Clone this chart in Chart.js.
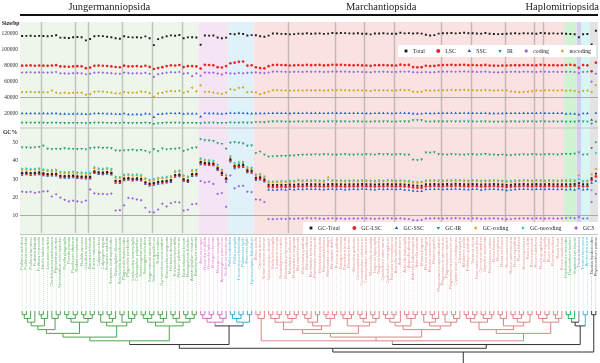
<!DOCTYPE html>
<html>
<head>
<meta charset="utf-8">
<script src="https://cdn.jsdelivr.net/npm/chart.js@4.4.0/dist/chart.umd.min.js"></script>
<style>
  html, body { margin: 0; padding: 0; background: #fff; }
  #wrap { width: 600px; height: 363px; }
</style>
</head>
<body>
<div id="wrap"><canvas id="c" width="600" height="363"></canvas></div>
<script>
// clades, left to right: Jungermanniopsida, two small clades, Marchantiopsida, Haplomitriopsida parts, outgroups
const cladeSizes = [42, 7, 6, 73, 3, 1, 2, 2];
const cladeFills = ["#eef6ec", "#f5e5f4", "#e0f1f9", "#fbe2e2", "#d2f3d3", "#d6cdf0", "#d6f7f6", "#e3e3e3"];
const cladeColors = ["#4da64d", "#d66fc6", "#35aed4", "#de8484", "#2fae4f", "#7d72b3", "#20c8c8", "#333333"];
const classNames = ["Jungermanniopsida", "Marchantiopsida", "Haplomitriopsida"];
const classFirst = [0, 42, 128];
const classLast = [41, 127, 135];
const sepAfter = [5, 13, 16, 24, 31, 38, 63, 74, 81, 88, 99, 106, 114, 121, 123];

const species = [
  "Frullania nodulosa", "Frullania moniliata", "Frullania tamarisci", "Frullania dilatata", "Frullania muscicola",
  "Jubula hutchinsiae", "Lejeunea cavifolia", "Cheilolejeunea xanthocarpa", "Ptychanthus striatus", "Spruceanthus semirepandus",
  "Porella platyphylla", "Porella pinnata", "Porella perrottetiana", "Radula complanata", "Radula japonica",
  "Lepidozia reptans", "Bazzania trilobata", "Kurzia makinoana", "Calypogeia fissa", "Calypogeia arguta",
  "Scapania undulata", "Scapania ornithopodioides", "Diplophyllum albicans", "Schistochila appendiculata", "Plagiochila asplenioides",
  "Plagiochila porelloides", "Lophocolea heterophylla", "Chiloscyphus polyanthos", "Heteroscyphus planus", "Saccogyna viticulosa",
  "Jungermannia exsertifolia", "Solenostoma gracillimum", "Nardia scalaris", "Gymnomitrion concinnatum", "Marsupella emarginata",
  "Herbertus dicranus", "Trichocolea tomentella", "Ptilidium pulcherrimum", "Neotrichocolea bissetii", "Mastigophora diclados",
  "Anastrophyllum minutum", "Barbilophozia barbata",
  "Aneura pinguis", "Riccardia multifida", "Riccardia latifrons", "Metzgeria furcata", "Metzgeria conjugata",
  "Apometzgeria pubescens", "Verdoornia succulenta",
  "Pellia endiviifolia", "Pellia epiphylla", "Fossombronia foveolata", "Pallavicinia lyellii", "Moerckia blyttii",
  "Hymenophyton flabellatum",
  "Blasia pusilla", "Cavicularia densa", "Sphaerocarpos texanus", "Sphaerocarpos donnellii", "Riella helicophylla",
  "Lunularia cruciata", "Neohodgsonia mirabilis", "Marchantia polymorpha", "Marchantia paleacea", "Marchantia emarginata",
  "Marchantia pinnata", "Marchantia quadrata", "Marchantia inflexa", "Marchantia berteroana", "Marchantia chenopoda",
  "Marchantia papillata", "Marchantia foliacea", "Marchantia subintegra", "Marchantia debilis", "Preissia quadrata",
  "Bucegia romanica", "Dumortiera hirsuta", "Monoclea forsteri", "Monoclea gottschei", "Conocephalum conicum",
  "Conocephalum salebrosum", "Conocephalum japonicum", "Wiesnerella denudata", "Targionia hypophylla", "Targionia lorbeeriana",
  "Cyathodium cavernarum", "Cyathodium smaragdinum", "Reboulia hemisphaerica", "Asterella wallichiana", "Asterella tenera",
  "Asterella leptophylla", "Asterella africana", "Asterella lindenbergiana", "Asterella saccata", "Mannia fragrans",
  "Mannia androgyna", "Mannia controversa", "Mannia gracilis", "Plagiochasma appendiculatum", "Plagiochasma intermedium",
  "Plagiochasma rupestre", "Plagiochasma pterospermum", "Cryptomitrium himalayense", "Clevea hyalina", "Athalamia pusilla",
  "Peltolepis quadrata", "Sauteria alpina", "Exormotheca pustulosa", "Corsinia coriandrina", "Oxymitra incrassata",
  "Ricciocarpos natans", "Riccia fluitans", "Riccia glauca", "Riccia sorocarpa", "Riccia cavernosa",
  "Riccia huebeneriana", "Riccia crystallina", "Riccia bifurca", "Riccia beyrichiana", "Riccia ciliata",
  "Riccia warnstorfii", "Riccia subbifurca", "Riccia gougetiana", "Riccia nigrella", "Riccia michelii",
  "Riccia lamellosa", "Riccia frostii", "Riccia canaliculata",
  "Haplomitrium mnioides", "Haplomitrium hookeri", "Haplomitrium blumei",
  "Treubia lacunosa",
  "Treubia tasmanica", "Apotreubia nana",
  "Takakia lepidozioides", "Physcomitrium patens"
];

// tree topology, leaves in the order above ("x" = one leaf, digit = clade subtree)
const cladeTrees = [
  "((((((((x,x),x),x),((x,x),x)),(x,(x,x))),(((x,x),(x,x)),((x,x),(x,x)))),(((x,x),((x,x),x)),((x,x),(x,(x,x))))),((((x,x),(x,x)),((x,x),x)),(((x,x),x),((x,x),(x,x)))))",
  "(((x,x),(x,x)),((x,x),x))",
  "(((x,x),(x,x)),(x,x))",
  "(((x,x),x),((((((x,x),(x,x)),((x,x),(x,x))),((((x,x),x),(x,x)),((x,x),(x,x)))),(((x,x),(x,x)),(((x,x),x),((x,x),x)))),(((((x,x),(x,x)),x),((x,x),(x,x))),(((x,x),((x,x),x)),((x,x),((x,x),x))))),(((((x,x),(x,x)),((x,x),(x,x))),(((x,x),x),(((x,x),(x,x)),(x,x)))),(((x,x),(x,x)),((x,x),x)))))",
  "((x,x),x)",
  "x",
  "(x,x)",
  "(x,x)"
];
const backbone = "(((0,(1,2)),(3,((4,5),6))),7)";

// genome sizes (bp)
const sizeTotal = [
  117500,117600,117800,117300,117600,117400,117200,117600,118400,115500,115200,115000,116000,116300,116000,112000,113800,117100,117600,117300,116600,116000,114600,114000,117200,116100,115800,116000,115400,117000,114600,106000,113600,115600,117200,118300,117800,118700,114600,115800,116000,115600,
  106500,118200,118000,118100,115600,114600,115400,
  120200,119600,120600,120100,118200,118600,
  118500,117200,116500,118000,120600,120700,120200,120000,119500,119800,
  120500,120300,121000,120400,120600,120800,120200,120500,121200,121000,
  121300,121100,120800,120700,120900,120400,120300,119500,120600,120700,
  120900,120500,120300,120400,121500,120800,121100,120600,120900,120500,
  119000,118200,118600,120500,121000,120900,121200,120800,121100,121500,
  120900,121000,120700,120500,121200,120300,120000,119900,120100,120300,
  120600,120900,120500,121000,120800,120700,120400,121300,120900,120600,
  120800,120500,120700,
  120300,120100,119600,
  116000,
  119700,120000,
  107000,124000
];
const sizeLSC = [
  80200,80300,80500,80100,80400,80200,80000,80300,80800,79200,79000,78800,79200,79500,79300,77000,77800,80000,80300,80100,79600,79200,78500,78200,80200,79400,79300,79600,79100,80100,78600,76000,77200,78300,79600,80600,80400,81000,78400,79500,79700,79200,
  76500,81200,81000,80600,78300,77900,79600,
  83200,84000,85000,85400,80200,80600,
  78200,77200,76800,79500,81000,81200,81000,80800,80400,80600,
  80900,80700,81200,80800,80900,81100,80500,80800,81300,81100,
  81200,81000,80800,80600,80900,80500,80400,79800,80700,80800,
  80900,80600,80500,80400,81400,80900,81100,78400,78100,78300,
  80100,79600,79800,80600,80900,81000,81200,80900,81100,81300,
  80800,81000,80700,80600,81100,80400,80200,80100,80300,80400,
  80600,80800,80500,81000,80800,80700,80500,81200,80900,80700,
  80800,80600,80700,
  81000,81200,80800,
  77500,
  80900,80600,
  73000,84000
];
const sizeSSC = [
  20100,20000,20200,20100,20000,20100,19900,20100,20200,19600,19500,19400,19600,19700,19600,19000,19300,20000,20100,20000,19800,19700,19300,19200,20000,18900,18700,18800,18600,19900,19400,15500,19200,19600,20000,20300,20200,20400,19300,19800,19900,19700,
  16000,20300,20200,20100,19800,19600,20000,
  20600,20300,20700,20400,20100,19900,
  20200,20100,20000,20300,20400,20500,20400,20300,20200,20400,
  20500,20300,20600,20400,20400,20500,20300,20400,20600,20500,
  20500,20400,20300,20400,20500,20300,20200,20000,20300,20400,
  20500,20300,20200,20300,20600,20400,20500,19800,19600,19700,
  20300,20100,20200,20400,20500,20500,20600,20400,20500,20600,
  20400,20500,20300,20400,20500,20200,20100,20000,20200,20300,
  20400,20500,20300,20500,20400,20400,20300,20600,20400,20300,
  20400,20300,20400,
  19600,19700,19500,
  18500,
  20000,20100,
  12000,20600
];
const sizeIR = [
  8500,8500,8600,8500,8500,8500,8400,8500,8600,8300,8300,8200,8400,8400,8400,8000,8200,8500,8600,8500,8400,8400,8200,8100,8500,8300,8300,8300,8200,8500,8200,6900,8000,8300,8500,8600,8500,8700,8200,8400,8400,8300,
  8000,8600,8600,8500,8300,8200,8400,
  8800,8700,8600,8800,8600,8600,
  9400,9300,9200,9800,10100,10200,10100,10000,9900,10000,
  10100,10000,10200,10100,10100,10200,10000,10100,10300,10200,
  10200,10100,10000,10100,10200,10000,10000,9800,10100,10100,
  10200,10100,10000,10000,10300,10100,10200,11800,11900,11700,
  10200,10000,10100,10100,10200,10200,10300,10100,10200,10300,
  10100,10200,10000,10100,10200,10000,9900,9900,10000,10000,
  10100,10200,10000,10200,10100,10100,10000,10300,10100,10000,
  10100,10000,10100,
  9900,10000,9800,
  10400,
  10100,10000,
  7500,9800
];
const sizeCoding = [
  71600,71700,71900,71500,71800,71600,71400,71700,72200,70600,70400,70200,70700,70900,70600,69400,70000,71300,71600,71400,71000,70700,70100,69900,71400,70800,70600,70700,70400,71200,70000,66000,69500,70500,71300,72000,71700,72300,70200,70800,67000,70500,
  67500,71500,71400,71300,70200,69200,71000,
  70600,70200,71000,70600,71200,71400,
  71800,71200,70800,71600,72600,72700,72500,72400,72200,72400,
  72500,72300,72700,72400,72500,72600,72300,72400,72800,72700,
  72700,72600,72400,72300,72500,72200,72100,71800,72400,72500,
  72600,72300,72200,72300,72800,72500,72700,72000,71800,71900,
  72300,71800,72000,72400,72600,72600,72800,72500,72700,72900,
  72500,72600,72300,72400,72700,72100,71900,71800,72000,72200,
  72400,72600,72300,72600,72500,72400,72200,72800,72500,72300,
  72500,72300,72400,
  72400,72500,72200,
  71000,
  72300,72500,
  60000,70000
];
const sizeNoncoding = [
  46800,46900,47200,46700,47000,46800,46600,48900,46200,45600,46400,45500,46000,46300,46100,43600,44500,47300,47800,47500,46900,46400,45500,45300,47100,46400,46200,46300,47600,47200,45700,41000,45200,46100,47400,48300,47900,48500,46200,47600,52500,48000,
  55500,47300,47100,46400,45600,44600,46300,
  50600,49800,52300,52800,46800,47200,
  46500,44300,45800,47400,49300,49500,49200,49000,48700,48900,
  49100,48900,49400,49000,49100,49300,48900,49100,49500,49400,
  49600,49400,49200,49100,49300,49000,48900,48400,49100,49200,
  49400,49100,48900,49000,49600,49300,49500,47500,47200,47400,
  49100,48700,48800,49200,49400,49400,49700,49300,49500,49800,
  49400,49500,49200,49100,49500,49300,48900,49100,49200,49000,
  47800,47300,46800,47100,47500,48300,49000,48700,49200,49100,
  49000,48800,49500,
  48600,48800,48400,
  47000,
  48500,48700,
  47000,55800
];

// GC content (%)
const gcTotal = [
  33.5,33.6,33.4,33.5,33.7,33.2,32.8,32.9,33.0,31.9,31.7,31.8,32.0,31.6,31.5,31.4,31.3,34.3,33.8,33.6,33.9,33.5,29.2,29.0,30.4,30.6,30.3,30.5,30.2,28.4,27.6,28.0,28.6,28.9,29.2,29.5,32.3,32.6,30.0,29.4,32.8,33.0,
  39.3,38.8,38.6,38.4,36.0,33.5,30.5,
  40.8,37.2,37.6,37.8,34.8,34.6,
  30.8,31.0,29.8,27.0,26.8,26.9,27.0,26.9,27.1,27.0,
  27.2,27.1,27.4,27.2,27.3,27.2,27.1,27.3,27.4,27.2,
  27.3,27.1,27.2,27.3,27.2,27.4,27.3,27.2,27.1,27.3,
  27.2,27.4,27.3,27.2,27.3,27.1,27.0,26.6,26.5,26.4,
  27.2,27.3,27.4,27.3,27.2,27.4,27.3,27.5,27.4,27.3,
  27.2,27.4,27.3,27.1,27.2,27.3,27.4,27.2,27.1,26.9,
  27.0,27.2,27.3,27.4,27.3,27.2,27.4,27.3,27.2,27.4,
  27.3,27.2,27.3,
  27.3,27.2,27.4,
  27.8,
  27.2,27.3,
  30.5,33.0
];
const gcLSC = [
  33.0,33.1,32.9,33.0,33.2,32.7,32.3,32.4,32.5,31.4,31.2,31.3,31.5,31.1,31.0,30.9,30.8,33.8,33.3,33.1,33.4,33.0,28.7,28.5,29.9,30.1,29.8,30.0,29.7,27.9,27.1,27.5,28.1,28.4,28.7,29.0,31.8,32.1,29.5,28.9,32.3,32.5,
  38.8,38.3,38.2,38.0,35.4,33.0,30.0,
  40.2,36.6,37.0,37.2,34.2,34.0,
  30.2,30.4,29.2,25.9,25.7,25.8,25.9,25.8,26.0,25.9,
  26.1,26.0,26.3,26.1,26.2,26.1,26.0,26.2,26.3,26.1,
  26.2,26.0,26.1,26.2,26.1,26.3,26.2,26.1,26.0,26.2,
  26.1,26.3,26.2,26.1,26.2,26.0,25.9,25.5,25.4,25.3,
  26.1,26.2,26.3,26.2,26.1,26.3,26.2,26.4,26.3,26.2,
  26.1,26.3,26.2,26.0,26.1,26.2,26.3,26.1,26.0,25.8,
  25.9,26.1,26.2,26.3,26.2,26.1,26.3,26.2,26.1,26.3,
  26.2,26.1,26.2,
  26.2,26.1,26.3,
  26.4,
  26.1,26.2,
  29.5,31.5
];
const gcSSC = [
  32.3,32.5,32.2,32.4,32.6,32.0,31.7,31.8,31.9,30.8,30.6,30.7,30.9,30.5,30.4,30.3,30.2,33.2,32.7,32.5,32.8,32.4,28.0,27.8,29.3,29.5,29.2,29.4,29.1,27.2,26.4,26.8,27.4,27.7,28.1,28.4,31.2,31.5,28.9,28.3,31.6,31.9,
  38.0,37.8,37.6,37.4,34.8,32.2,28.6,
  39.5,35.8,36.4,36.5,33.6,33.4,
  29.4,29.7,28.6,24.3,24.1,24.2,24.4,24.2,24.5,24.3,
  24.6,24.4,24.7,24.5,24.6,24.4,24.3,24.6,24.7,24.4,
  24.5,24.3,24.4,24.6,24.4,24.7,24.5,24.4,24.3,24.5,
  24.4,24.6,24.5,24.4,24.5,24.2,24.1,23.6,23.4,23.5,
  24.4,24.5,24.6,24.5,24.4,24.6,24.5,24.7,24.6,24.4,
  24.3,24.6,24.5,24.2,24.4,24.5,24.6,24.4,24.3,23.9,
  24.1,24.4,24.5,24.6,24.5,24.4,24.6,24.5,24.4,24.6,
  24.5,24.4,24.5,
  24.3,24.4,24.2,
  25.0,
  24.3,24.4,
  28.0,29.0
];
const gcIR = [
  47.3,47.2,47.1,47.3,47.6,48.2,46.6,46.3,46.5,46.4,46.8,46.6,46.5,46.3,46.5,46.2,46.8,47.1,47.2,47.0,47.1,46.8,45.6,45.5,45.7,45.8,46.0,45.6,45.9,45.4,44.6,46.3,45.2,46.7,46.2,46.4,46.6,46.8,45.4,46.0,47.0,47.2,
  51.8,51.2,51.0,50.8,49.6,49.2,46.6,
  49.8,50.1,49.8,49.4,48.2,48.3,
  44.2,45.0,43.4,42.3,42.4,42.5,42.6,42.7,42.8,42.9,
  43.2,43.3,43.4,43.3,43.5,43.4,43.6,43.5,43.4,43.3,
  43.5,43.6,43.4,43.3,43.5,43.4,43.6,43.5,43.4,43.7,
  43.5,43.6,43.4,43.5,43.6,43.4,43.3,40.6,40.4,40.7,
  44.5,44.4,44.7,43.6,43.5,43.4,43.6,43.5,43.4,43.3,
  43.5,43.6,43.4,43.5,43.7,43.4,43.3,43.2,43.4,43.1,
  43.0,43.3,43.4,43.5,43.4,43.6,43.5,43.4,43.5,43.6,
  43.5,43.4,43.6,
  43.8,43.7,43.9,
  44.6,
  43.4,43.5,
  47.0,50.0
];
const gcCoding = [
  35.0,35.1,34.9,35.0,35.3,34.7,34.3,34.4,34.5,33.4,33.2,33.3,33.5,33.1,33.0,32.9,32.8,35.8,35.3,35.1,35.4,35.0,30.7,30.5,31.9,32.1,31.8,32.0,31.7,29.9,29.1,29.5,30.1,30.4,30.7,31.0,33.8,34.1,31.5,30.9,34.3,34.5,
  40.5,39.8,39.6,39.3,37.0,34.5,31.8,
  41.8,38.2,38.6,38.8,35.8,35.6,
  32.0,32.2,31.0,28.4,28.3,28.4,28.6,28.5,28.7,28.6,
  29.2,28.8,29.0,28.9,29.0,28.8,28.7,31.0,29.0,28.8,
  28.9,28.7,28.8,28.9,28.8,29.0,28.9,28.8,28.7,28.9,
  28.8,29.0,28.9,28.8,28.9,28.7,28.6,28.1,28.0,28.2,
  28.8,28.9,29.0,28.9,28.8,29.0,28.9,29.1,29.0,28.9,
  28.8,29.0,28.9,28.7,28.8,28.9,29.0,28.8,28.7,28.5,
  28.6,28.8,28.9,29.0,28.9,28.8,29.0,28.9,28.8,29.0,
  28.9,28.8,28.9,
  28.9,29.0,28.8,
  32.0,
  28.6,28.7,
  32.6,35.5
];
const gcNoncoding = [
  35.6,35.8,35.5,35.6,35.9,35.3,34.9,35.0,35.1,34.0,33.8,33.9,34.1,33.7,33.6,33.5,33.4,36.5,35.9,35.7,36.0,35.6,31.3,31.1,32.5,32.7,32.4,32.6,32.3,30.5,29.7,30.1,30.7,31.0,31.3,31.6,34.4,34.7,32.1,31.5,34.9,35.1,
  41.2,40.5,40.3,40.0,37.8,35.2,32.3,
  42.5,38.8,39.2,39.4,36.5,36.3,
  32.6,32.8,31.6,28.8,28.7,28.8,29.0,28.9,29.1,29.0,
  29.6,29.3,29.5,29.4,29.5,29.3,29.2,29.6,29.5,29.3,
  29.4,29.2,29.3,29.4,29.3,29.5,29.4,29.3,29.2,29.4,
  29.3,29.5,29.4,29.3,29.4,29.2,29.1,28.6,28.5,28.7,
  29.3,29.4,29.5,29.4,29.3,29.5,29.4,29.6,29.5,29.4,
  29.3,29.5,29.4,29.2,29.3,29.4,29.5,29.3,29.2,29.0,
  29.1,29.3,29.4,29.5,29.4,29.3,29.5,29.4,29.3,29.5,
  29.4,29.3,29.4,
  29.5,29.6,29.4,
  30.0,
  29.1,29.2,
  24.0,44.2
];
const gc3 = [
  23.2,23.0,23.1,22.6,23.0,23.4,23.5,20.6,21.8,20.0,18.8,18.0,18.3,18.0,17.6,18.4,24.4,22.3,22.0,22.0,21.8,22.2,13.0,13.2,15.8,19.8,19.6,19.0,18.6,14.5,12.2,12.0,13.5,16.6,15.2,17.0,17.6,17.4,13.0,13.4,16.4,16.6,
  29.0,28.2,28.6,27.4,22.0,22.5,15.0,
  32.0,25.0,26.2,26.4,23.2,23.0,
  19.0,18.8,17.6,8.4,8.3,8.4,8.5,8.4,8.6,8.5,
  8.7,8.6,8.9,8.7,8.8,8.6,8.5,8.7,8.8,8.6,
  8.7,8.5,8.6,8.7,8.6,8.8,8.7,8.6,8.5,8.7,
  8.6,8.8,8.7,8.6,8.7,8.5,8.4,7.8,7.7,7.9,
  8.6,8.7,8.8,8.7,8.6,8.8,8.7,8.9,8.8,8.7,
  8.6,8.8,8.7,8.5,8.6,8.7,8.8,8.6,8.5,8.3,
  8.4,8.6,8.7,8.8,8.7,8.6,8.8,8.7,8.6,8.8,
  8.7,8.6,8.7,
  8.9,9.0,8.8,
  9.4,
  8.6,8.7,
  17.6,22.0
];

const sizeTicks = [20000, 40000, 60000, 80000, 100000, 120000];
const gcTicks = [10, 20, 30, 40, 50];

const serif = '"Liberation Serif", "DejaVu Serif", serif';

function series(label, data, axis, color, style, rotation) {
  return {
    label, data, yAxisID: axis,
    showLine: false,
    backgroundColor: color, borderColor: color,
    pointStyle: style, rotation: rotation || 0,
    pointRotation: rotation || 0,
    pointRadius: style === 'triangle' ? 1.6 : 1.35,
    pointBorderWidth: 0, pointHoverRadius: 0
  };
}

const datasets = [
  series('Total', sizeTotal, 'ySize', '#1a1a1a', 'rect'),
  series('LSC', sizeLSC, 'ySize', '#e8262a', 'circle'),
  series('SSC', sizeSSC, 'ySize', '#1e5fd0', 'triangle'),
  series('IR', sizeIR, 'ySize', '#1b9e6e', 'triangle', 180),
  series('coding', sizeCoding, 'ySize', '#9b63e0', 'rectRot'),
  series('nocoding', sizeNoncoding, 'ySize', '#c9a20a', 'triangle', 270),
  series('GC-Total', gcTotal, 'yGC', '#1a1a1a', 'rect'),
  series('GC-LSC', gcLSC, 'yGC', '#e8262a', 'circle'),
  series('GC-SSC', gcSSC, 'yGC', '#1e5fd0', 'triangle'),
  series('GC-IR', gcIR, 'yGC', '#1b9e6e', 'triangle', 180),
  series('GC-coding', gcCoding, 'yGC', '#c9a20a', 'triangle', 270),
  series('GC-nocoding', gcNoncoding, 'yGC', '#1ec8d6', 'triangle', 90),
  series('GC3', gc3, 'yGC', '#9b63e0', 'rectRot')
];

function drawLegend(chart, ids, left, right, cy) {
  const ctx = chart.ctx;
  ctx.save();
  ctx.fillStyle = '#fff';
  ctx.fillRect(left, cy - 6, right - left, 12);
  ctx.font = '5.8px ' + serif;
  ctx.textBaseline = 'middle';
  ctx.textAlign = 'left';
  const widths = ids.map(i => ctx.measureText(chart.data.datasets[i].label).width);
  const used = widths.reduce((s, w) => s + w + 8, 0);
  const gap = (right - left - 12 - used) / (ids.length - 1);
  let x = left + 8;
  ids.forEach((i, k) => {
    const ds = chart.data.datasets[i];
    ctx.fillStyle = ds.backgroundColor;
    Chart.helpers.drawPoint(ctx, { pointStyle: ds.pointStyle, rotation: ds.rotation, radius: 2, borderWidth: 0 }, x, cy);
    ctx.fillStyle = '#222';
    ctx.fillText(ds.label, x + 7, cy + 0.5);
    x += 8 + widths[k] + gap;
  });
  ctx.restore();
}

function buildTree() {
  let leaf = 0;
  function parse(s, color) {
    let p = 0;
    function node() {
      if (s[p] === '(') {
        p++;
        const kids = [node()];
        while (s[p] === ',') { p++; kids.push(node()); }
        p++;
        return { kids, color };
      }
      const ch = s[p++];
      if (ch === 'x') return { leaf: leaf++, color };
      return parse(cladeTrees[+ch], cladeColors[+ch]);
    }
    return node();
  }
  return parse(backbone, '#333');
}

const figure = {
  id: 'figure',
  beforeDraw(chart) {
    const { ctx, chartArea: a, scales } = chart;
    const x = scales.x;
    const half = (x.getPixelForValue(1) - x.getPixelForValue(0)) / 2;
    ctx.save();
    let start = 0;
    cladeSizes.forEach((n, k) => {
      const x0 = x.getPixelForValue(start) - half;
      const x1 = x.getPixelForValue(start + n - 1) + half;
      ctx.fillStyle = cladeFills[k];
      ctx.fillRect(x0, a.top, x1 - x0, a.bottom - a.top + 2);
      start += n;
    });
    ctx.strokeStyle = 'rgba(130,130,130,0.45)';
    ctx.lineWidth = 1.4;
    sepAfter.forEach(i => {
      const px = Math.round(x.getPixelForValue(i) - half) + 0.5;
      ctx.beginPath(); ctx.moveTo(px, a.top); ctx.lineTo(px, a.bottom); ctx.stroke();
    });
    ctx.strokeStyle = '#c4c4c4';
    ctx.lineWidth = 1;
    [scales.yGC.top + 0.5, a.bottom + 1.5].forEach(py => {
      ctx.beginPath(); ctx.moveTo(a.left, py); ctx.lineTo(a.right, py); ctx.stroke();
    });
    ctx.restore();
  },
  afterDraw(chart) {
    const { ctx, chartArea: a, scales } = chart;
    const x = scales.x;
    const half = (x.getPixelForValue(1) - x.getPixelForValue(0)) / 2;
    ctx.save();

    // class headers
    ctx.strokeStyle = '#111';
    ctx.lineWidth = 2;
    ctx.beginPath(); ctx.moveTo(a.left, 15); ctx.lineTo(a.right, 15); ctx.stroke();
    ctx.font = '10.5px ' + serif;
    ctx.fillStyle = '#222';
    ctx.textBaseline = 'middle';
    ctx.textAlign = 'center';
    classNames.forEach((t, k) => {
      const w = ctx.measureText(t).width;
      let cx = (x.getPixelForValue(classFirst[k]) - half + x.getPixelForValue(classLast[k]) + half) / 2;
      cx = Math.min(cx, 599 - w / 2);
      ctx.fillText(t, cx, 7);
    });

    // axis titles
    ctx.font = 'bold 5.6px ' + serif;
    ctx.textAlign = 'left';
    ctx.fillText('Size/bp', 2, 24);
    ctx.fillText('GC%', 3, scales.yGC.top + 5);

    // legends
    drawLegend(chart, [0, 1, 2, 3, 4, 5], 398, 596, 51);
    drawLegend(chart, [6, 7, 8, 9, 10, 11, 12], 303, 599, 228);

    // species labels and leaders
    const tipY = 311;
    const labTop = a.bottom + 4;
    ctx.font = '4px "Liberation Sans", sans-serif';
    ctx.textAlign = 'right';
    let k = 0, cnt = 0;
    species.forEach((name, i) => {
      if (cnt >= cladeSizes[k]) { k++; cnt = 0; }
      cnt++;
      const px = x.getPixelForValue(i);
      const w = ctx.measureText(name).width;
      ctx.save();
      ctx.translate(px, labTop);
      ctx.rotate(-Math.PI / 2);
      ctx.fillStyle = cladeColors[k];
      ctx.globalAlpha = 0.85;
      ctx.fillText(name, 0, 0);
      ctx.restore();
      ctx.save();
      ctx.strokeStyle = cladeColors[k];
      ctx.globalAlpha = 0.45;
      ctx.lineWidth = 0.6;
      ctx.setLineDash([1, 1]);
      ctx.beginPath(); ctx.moveTo(px, labTop + w + 1); ctx.lineTo(px, tipY); ctx.stroke();
      ctx.restore();
    });

    // tree
    const root = buildTree();
    (function place(n) {
      if (n.kids) {
        n.kids.forEach(place);
        n.h = 1 + Math.max(...n.kids.map(c => c.h));
        n.x = (n.kids[0].x + n.kids[n.kids.length - 1].x) / 2;
      } else {
        n.h = 0;
        n.x = x.getPixelForValue(n.leaf);
      }
    })(root);
    const step = (352 - tipY) / root.h;
    (function setY(n) { n.y = tipY + n.h * step; if (n.kids) n.kids.forEach(setY); })(root);
    ctx.lineWidth = 1;
    function seg(x0, y0, x1, y1, c) {
      ctx.strokeStyle = c;
      ctx.beginPath(); ctx.moveTo(x0, y0); ctx.lineTo(x1, y1); ctx.stroke();
    }
    (function drawNode(n) {
      if (!n.kids) return;
      n.kids.forEach(c => { seg(c.x, c.y, c.x, n.y, c.color); drawNode(c); });
      seg(n.kids[0].x, n.y, n.kids[n.kids.length - 1].x, n.y, n.color);
    })(root);
    seg(root.x, root.y, root.x, 363, '#333');
    ctx.restore();
  }
};

function yScale(min, max, ticks, gridAt, stackWeight) {
  return {
    type: 'linear', position: 'left', stack: 'panels', stackWeight,
    min, max,
    afterBuildTicks: s => { s.ticks = ticks.map(v => ({ value: v })); },
    afterFit: s => { s.width = 20; },
    border: { display: false },
    grid: {
      drawTicks: false,
      lineWidth: 1.1,
      color: c => (c.tick && c.tick.value === gridAt ? '#ababab' : 'rgba(0,0,0,0)')
    },
    ticks: { color: '#333', padding: 2, font: { family: serif, size: 5.5 }, callback: v => String(v) }
  };
}

new Chart(document.getElementById('c'), {
  type: 'line',
  data: { labels: species, datasets },
  options: {
    responsive: false,
    devicePixelRatio: 1,
    animation: false,
    layout: { padding: { top: 22, bottom: 130, left: 0, right: 2 } },
    plugins: { legend: { display: false }, tooltip: { enabled: false } },
    scales: {
      x: { type: 'category', display: false, offset: true },
      // in a left-hand stack the later scale is placed above the earlier one
      yGC: yScale(0.8, 58, gcTicks, 10, 1),
      ySize: yScale(2400, 135100, sizeTicks, 40000, 1)
    }
  },
  plugins: [figure]
});
</script>
</body>
</html>
